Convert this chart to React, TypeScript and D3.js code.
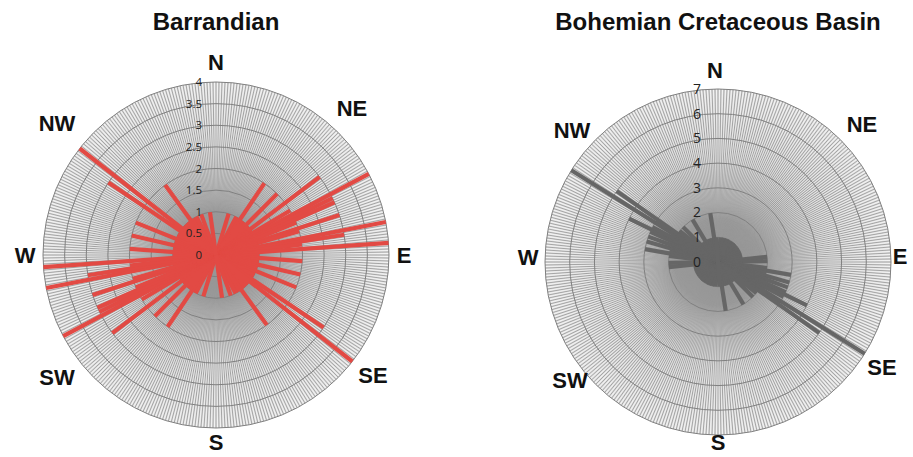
import React from 'react';
import * as d3 from 'd3';

// compass labels round each rose
const directionLabels = ['N', 'NE', 'E', 'SE', 'S', 'SW', 'W', 'NW'];

// Barrandian: strike bins (degrees, 0-180) and counts; axial data, drawn both ways
const barrandianAngles = [17, 28, 31, 34, 37, 40, 43, 45, 48, 50, 53, 55, 57, 59, 62, 64, 66, 68, 70, 72, 74, 76, 79, 81, 83, 86, 88, 91, 94, 97, 100, 103, 106, 109, 112, 115, 118, 121, 124, 128, 131, 134, 138, 141, 144, 148, 153, 160, 172];
const barrandianCounts = [1, 1, 1, 2, 1, 1, 1, 2, 1, 1, 3, 1, 1, 2, 4, 3, 3, 2, 1, 3, 2, 1, 4, 3, 2, 4, 1, 1, 2, 1, 1, 2, 1, 1, 2, 1, 1, 1, 3, 4, 1, 1, 1, 1, 2, 1, 1, 1, 1];
const barrandianTicks = [0, 0.5, 1, 1.5, 2, 2.5, 3, 3.5, 4];

// Bohemian Cretaceous Basin
const bohemianAngles = [6, 14, 22, 30, 38, 41, 47, 54, 60, 66, 72, 77, 84, 89, 93, 97, 100, 103, 106, 108, 110, 112, 114, 116, 118, 120, 122, 123, 125, 127, 129, 132, 135, 139, 143, 149, 154, 159, 165, 171, 176];
const bohemianCounts = [1, 1, 1, 1, 1, 1, 1, 1, 1, 1, 1, 1, 2, 2, 1, 2, 3, 2, 3, 2, 3, 2, 3, 4, 3, 2, 7, 3, 5, 2, 2, 1, 2, 1, 1, 2, 1, 1, 1, 2, 1];
const bohemianTicks = [0, 1, 2, 3, 4, 5, 6, 7];

const spokes = d3.range(0, 360, 1);

// where the compass words sit, relative to each centre
const barrandianLabelPos = [[0, -193], [136, -147], [188, 0], [157, 120], [0, 187], [-159, 122], [-191, 0], [-159, -132]];
const bohemianLabelPos = [[-3, -192], [144, -138], [182, -6], [164, 105], [0, 180], [-148, 118], [-190, -5], [-146, -132]];

type RoseProps = {
  id: string;
  title: string;
  cx: number;
  cy: number;
  radius: number;
  ticks: number[];
  angles: number[];
  counts: number[];
  color: string;
  tickSize: number;
  tickDx: number;
  labelPos: number[][];
};

function Rose(p: RoseProps) {
  const max = d3.max(p.ticks)!;
  const r = d3.scaleLinear().domain([0, max]).range([0, p.radius]);
  const pt = (deg: number, v: number) => d3.pointRadial((deg * Math.PI) / 180, r(v));

  const bars: { a: number; v: number }[] = [];
  p.angles.forEach((a, i) => {
    bars.push({ a, v: p.counts[i] });
    bars.push({ a: a + 180, v: p.counts[i] });
  });

  return (
    <g transform={`translate(${p.cx},${p.cy})`}>
      <defs>
        <radialGradient id={`bg-${p.id}`}>
          <stop offset="0%" stopColor="#8c8c8c" />
          <stop offset="35%" stopColor="#ababab" />
          <stop offset="65%" stopColor="#cbcbcb" />
          <stop offset="100%" stopColor="#e2e2e2" />
        </radialGradient>
        <radialGradient id={`wg-${p.id}`} gradientUnits="userSpaceOnUse" cx={0} cy={0} r={p.radius}>
          <stop offset="0%" stopColor="#fff" stopOpacity={0} />
          <stop offset="25%" stopColor="#fff" stopOpacity={0} />
          <stop offset="60%" stopColor="#fff" stopOpacity={0.5} />
          <stop offset="100%" stopColor="#fff" stopOpacity={0.7} />
        </radialGradient>
      </defs>
      <text x={0} y={-p.cy + 30} textAnchor="middle" fontFamily="Liberation Sans, Arial, sans-serif" fontWeight="bold" fontSize={24} fill="#111">
        {p.title}
      </text>
      <circle r={p.radius} fill={`url(#bg-${p.id})`} />
      {spokes.map((s) => {
        const [x, y] = pt(s, max);
        return <line key={s} x1={0} y1={0} x2={x} y2={y} stroke="#979797" strokeWidth={0.8} />;
      })}
      {spokes.map((s) => {
        const [x1, y1] = pt(s + 0.5, max * 0.2);
        const [x2, y2] = pt(s + 0.5, max);
        return <line key={`w${s}`} x1={x1} y1={y1} x2={x2} y2={y2} stroke={`url(#wg-${p.id})`} strokeWidth={0.9} />;
      })}
      {p.ticks.slice(1).map((t) => (
        <circle key={t} r={r(t)} fill="none" stroke="#808080" strokeWidth={1} />
      ))}
      {bars.map((b, i) => {
        const [x, y] = pt(b.a, b.v);
        return <line key={i} x1={0} y1={0} x2={x} y2={y} stroke={p.color} strokeWidth={4.2} strokeLinecap="butt" />;
      })}
      {p.ticks.map((t) => (
        <text key={t} x={p.tickDx} y={-r(t)} dy="0.35em" textAnchor="end" fontFamily="Open Sans, sans-serif" fontSize={p.tickSize} fill="#222">
          {t}
        </text>
      ))}
      {directionLabels.map((d, i) => (
        <text key={d} x={p.labelPos[i][0]} y={p.labelPos[i][1]} dy="0.36em" textAnchor="middle" fontFamily="Liberation Sans, Arial, sans-serif" fontWeight="bold" fontSize={22} fill="#111">
          {d}
        </text>
      ))}
    </g>
  );
}

export default function App() {
  return (
    <svg width={913} height={457} style={{ position: 'absolute', left: 0, top: 0, background: '#fff' }}>
      <Rose id="barr" title="Barrandian" cx={216} cy={255} radius={173} ticks={barrandianTicks} angles={barrandianAngles} counts={barrandianCounts} color="#e24a44" tickSize={11.5} tickDx={-14} labelPos={barrandianLabelPos} />
      <Rose id="bohem" title="Bohemian Cretaceous Basin" cx={718} cy={262} radius={173} ticks={bohemianTicks} angles={bohemianAngles} counts={bohemianCounts} color="#666666" tickSize={14} tickDx={-17} labelPos={bohemianLabelPos} />
    </svg>
  );
}
